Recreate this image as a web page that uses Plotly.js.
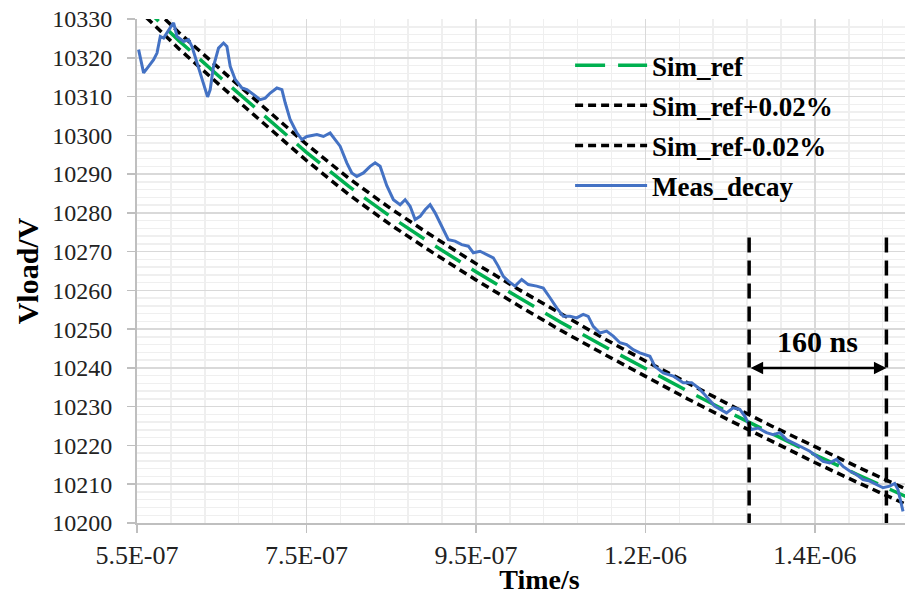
<!DOCTYPE html>
<html><head><meta charset="utf-8">
<script src="https://cdn.plot.ly/plotly-3.0.1.min.js"></script>
<style>html,body{margin:0;padding:0;overflow:hidden;background:#fff;width:905px;height:595px}#chart{width:945px;height:595px}</style>
</head><body><div id="chart"></div>
<script>
// Simulated reference curve (time in ns, voltage in V)
const simTimeNs = [550,600,650,700,750,800,850,900,950,1000,1050,1100,1150,1200,1250,1300,1350,1400,1450,1500];
const simRef   = [10334.8,10324.3,10314.6,10305.0,10295.6,10286.8,10278.9,10271.7,10264.8,10258.2,10251.8,10245.7,10239.8,10234.0,10228.4,10222.9,10217.6,10212.5,10207.5,10202.6];
const simUpper = [10336.9,10326.4,10316.7,10307.1,10297.7,10288.9,10281.0,10273.8,10266.9,10260.3,10253.9,10247.7,10241.8,10236.0,10230.4,10224.9,10219.6,10214.5,10209.5,10204.6];
const simLower = [10332.7,10322.2,10312.5,10302.9,10293.5,10284.7,10276.8,10269.6,10262.7,10256.1,10249.7,10243.7,10237.8,10232.0,10226.4,10220.9,10215.6,10210.5,10205.5,10200.6];

// Measured decay (time in ns, voltage in V)
const measTimeNs = [
551.9,557.8,563.7,569.6,573.6,577.5,581.4,587.3,591.3,593.2,
597.2,605.0,610.8,614.9,620.8,626.6,630.5,633.3,636.4,640.3,
646.2,652.1,656.1,660.0,665.9,673.8,679.7,687.5,695.4,701.3,
707.2,715.1,721.0,724.9,730.8,738.7,744.6,750.5,762.3,770.0,
777.9,783.8,789.7,797.6,803.5,809.4,817.2,825.1,831.0,836.9,
841.0,844.8,852.6,860.5,866.4,872.3,878.2,884.1,890.0,895.9,
901.8,909.7,917.4,925.3,933.2,941.0,946.9,954.8,962.7,970.5,
976.4,982.3,988.2,996.1,1004.0,1011.8,1021.7,1029.5,1037.4,1045.3,
1053.1,1061.0,1068.9,1076.6,1082.5,1088.4,1096.3,1104.2,1112.0,1119.9,
1127.8,1135.6,1143.5,1155.3,1161.2,1171.0,1182.8,1194.6,1204.5,1212.2,
1220.1,1232.0,1245.7,1253.5,1261.4,1267.3,1275.2,1283.0,1292.9,1300.7,
1308.6,1316.5,1324.3,1332.2,1344.0,1351.9,1359.6,1367.5,1375.4,1383.2,
1391.1,1399.0,1406.8,1414.7,1422.6,1430.4,1438.3,1444.2,1448.1,1452.1,
1454.0];
const measV = [
10322.1,10316.1,10317.8,10319.5,10321.2,10325.5,10325.1,10327.3,10328.5,10329.0,
10325.5,10324.2,10324.7,10322.9,10318.7,10315.2,10311.8,10309.9,10311.8,10317.8,
10322.5,10323.8,10322.9,10317.8,10314.4,10312.2,10311.8,10310.5,10309.2,10309.6,
10310.9,10312.2,10311.8,10308.4,10304.0,10300.6,10298.9,10299.7,10300.2,10299.7,
10300.6,10298.9,10297.2,10292.9,10290.3,10289.4,10290.3,10292.0,10292.9,10292.0,
10289.5,10287.0,10283.4,10282.1,10283.4,10281.7,10278.3,10279.1,10280.8,10282.1,
10280.0,10276.5,10273.1,10272.7,10271.8,10271.4,10269.7,10270.1,10269.2,10268.4,
10266.2,10263.6,10262.4,10261.1,10262.8,10261.5,10261.1,10260.6,10258.1,10255.5,
10253.3,10253.3,10252.9,10253.8,10253.3,10250.7,10249.0,10249.5,10248.2,10246.5,
10246.0,10244.7,10243.9,10243.0,10240.4,10238.7,10237.9,10236.2,10236.2,10234.9,
10233.1,10230.1,10228.4,10229.7,10229.3,10227.5,10224.1,10224.5,10223.3,10222.8,
10223.3,10221.5,10220.7,10219.8,10218.5,10217.2,10215.9,10215.5,10216.4,10214.6,
10213.4,10212.5,10211.2,10210.8,10209.9,10209.1,10209.5,10210.2,10208.6,10204.3,
10203.0];

// Axis ticks
const xTickVals = [5.5e-7, 7.5e-7, 9.5e-7, 1.15e-6, 1.35e-6];
const xTickText = ["5.5E-07", "7.5E-07", "9.5E-07", "1.2E-06", "1.4E-06"];
const yTickVals = [10200,10210,10220,10230,10240,10250,10260,10270,10280,10290,10300,10310,10320,10330];
const yTickText = ["10200","10210","10220","10230","10240","10250","10260","10270","10280","10290","10300","10310","10320","10330"];

// 160 ns window markers (ns), marker top voltage, arrow level
const windowNs = [1272.4, 1434.4];
const windowTopV = 10275;
const arrowV = 10240;
const windowLabel = "160 ns";
const windowLabelV = 10246.9;

const ns = v => v * 1e-9;
const serif = "Liberation Serif, Times New Roman, serif";

const traces = [
  {x: simTimeNs.map(ns), y: simRef, name: "Sim_ref", mode: "lines", legendgroup: "a",
   line: {color: "#00B050", width: 3.5, dash: "30px,13px"}},
  {x: simTimeNs.map(ns), y: simUpper, name: "Sim_ref+0.02%", mode: "lines", legendgroup: "b",
   line: {color: "#000000", width: 3.5, dash: "8px,5px"}},
  {x: simTimeNs.map(ns), y: simLower, name: "Sim_ref-0.02%", mode: "lines", legendgroup: "c",
   line: {color: "#000000", width: 3.5, dash: "8px,5px"}},
  {x: measTimeNs.map(ns), y: measV, name: "Meas_decay", mode: "lines", legendgroup: "d",
   line: {color: "#4472C4", width: 3}}
];

const shapes = windowNs.map(t => ({
  type: "line", xref: "x", yref: "y", x0: ns(t), x1: ns(t), y0: 10198.6, y1: windowTopV,
  line: {color: "#000", width: 3.5, dash: "15px,8px"}
}));

const annotations = [
  {x: ns(windowNs[1]), y: arrowV, ax: ns(windowNs[0]), ay: arrowV, xref: "x", yref: "y", axref: "x", ayref: "y",
   text: "", showarrow: true, arrowside: "end+start", arrowhead: 2, arrowsize: 1, arrowwidth: 2.5, arrowcolor: "#000", standoff: 0, startstandoff: 0},
  {x: ns((windowNs[0] + windowNs[1]) / 2), y: windowLabelV, xref: "x", yref: "y", text: windowLabel, showarrow: false,
   font: {family: serif, size: 30, color: "#000", weight: "bold"}}
];

const layout = {
  width: 945, height: 595,
  margin: {l: 137, r: 3, t: 19, b: 72},
  paper_bgcolor: "#fff", plot_bgcolor: "#fff",
  showlegend: true,
  legend: {x: 0.538, y: 0.956, xanchor: "left", yanchor: "top", bgcolor: "rgba(0,0,0,0)",
           font: {family: serif, size: 27, color: "#000", weight: "bold"},
           itemwidth: 72, tracegroupgap: 2, traceorder: "grouped"},
  xaxis: {
    range: [5.5e-7, 1.5e-6], tickmode: "array", tickvals: xTickVals, ticktext: xTickText,
    ticks: "outside", ticklen: 8, tickwidth: 1.5, tickcolor: "#bfbfbf",
    showline: true, linecolor: "#bfbfbf", linewidth: 2, mirror: false,
    showgrid: true, gridcolor: "#d9d9d9", gridwidth: 1.5, zeroline: false,
    minor: {tickmode: "linear", tick0: 5.5e-7, dtick: 4e-8, showgrid: true, gridcolor: "#efefef", gridwidth: 1.5, ticks: ""},
    tickfont: {family: serif, size: 26, color: "#222"}, ticklabelstandoff: 0,
    title: {text: "Time/s", font: {family: serif, size: 28, color: "#000", weight: "bold"}, standoff: 8}
  },
  yaxis: {
    range: [10200, 10330], tickmode: "array", tickvals: yTickVals, ticktext: yTickText,
    ticks: "outside", ticklen: 8, tickwidth: 1.5, tickcolor: "#bfbfbf",
    showline: true, linecolor: "#bfbfbf", linewidth: 2,
    showgrid: true, gridcolor: "#d9d9d9", gridwidth: 1.5, zeroline: false,
    minor: {tickmode: "linear", tick0: 10200, dtick: 2, showgrid: true, gridcolor: "#efefef", gridwidth: 1.5, ticks: ""},
    tickfont: {family: serif, size: 24, color: "#222"}, ticklabelstandoff: 10,
    title: {text: "Vload/V", font: {family: serif, size: 30, color: "#000", weight: "bold"}, standoff: 5}
  },
  shapes: shapes,
  annotations: annotations
};

Plotly.newPlot("chart", traces, layout, {displayModeBar: false, staticPlot: true});
</script></body></html>
